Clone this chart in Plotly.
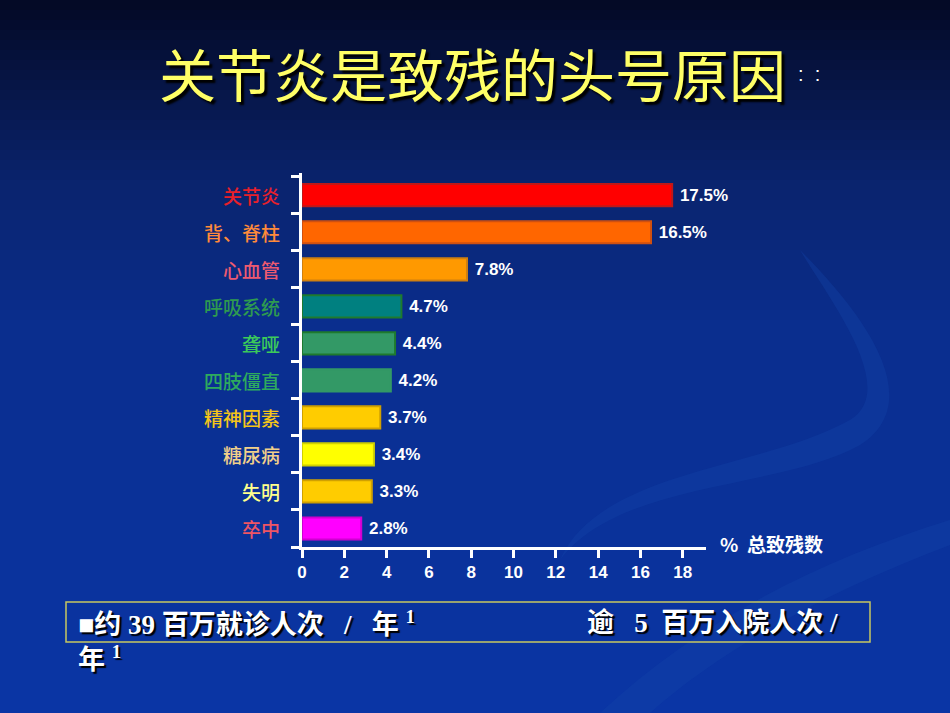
import plotly.graph_objects as go

causes = ["关节炎", "背、脊柱", "心血管", "呼吸系统", "聋哑",
          "四肢僵直", "精神因素", "糖尿病", "失明", "卒中"]
share = [17.5, 16.5, 7.8, 4.7, 4.4, 4.2, 3.7, 3.4, 3.3, 2.8]
bar_colors = ["#FF0000", "#FF6600", "#FF9900", "#008080", "#339966",
              "#339966", "#FFCC00", "#FFFF00", "#FFCC00", "#FF00FF"]
edge_colors = ["#C01818", "#D05010", "#D08010", "#1E7A2E", "#1E7A2E",
               "#339966", "#D0A000", "#D0D000", "#D0A000", "#D000D0"]
label_colors = ["#E8202A", "#FF8A3A", "#EE5A70", "#2E9A50", "#3CCB5A",
                "#2EAA5E", "#F5C518", "#F2D08A", "#FFFF8C", "#EE5564"]
x_ticks = [0, 2, 4, 6, 8, 10, 12, 14, 16, 18]

W, H = 950, 713
L, R, T, B = 302, 244, 173, 166
PH = H - T - B
PW = W - L - R


def py(pix):
    # pixel row (from top) -> paper y
    return (H - B - pix) / PH


def px(pix):
    return (pix - L) / PW


fig = go.Figure()
fig.add_trace(go.Bar(
    x=share, y=causes, orientation="h", width=0.6,
    marker=dict(color=bar_colors, line=dict(color=edge_colors, width=2)),
    text=[f" {v}%" for v in share], textposition="outside",
    textfont=dict(family="Arial, Liberation Sans", size=17, color="white", weight="bold"),
    cliponaxis=False,
))

# background gradient (top dark navy -> royal blue)
stops = [(0, (4, 10, 38)), (180, (10, 36, 110)), (320, (10, 46, 142)), (713, (10, 54, 166))]
shapes = []
step = 10
for y in range(0, H, step):
    for (ya, ca), (yb, cb) in zip(stops[:-1], stops[1:]):
        if ya <= y < yb:
            t = (y - ya) / (yb - ya)
            c = tuple(int(ca[k] + (cb[k] - ca[k]) * t) for k in range(3))
            break
    shapes.append(dict(type="rect", xref="paper", yref="paper", layer="below",
                       x0=px(-5), x1=px(W + 5), y0=py(y + step + 1), y1=py(y),
                       fillcolor=f"rgb{c}", line=dict(width=0)))
# faint swoosh decoration at lower right
shapes.append(dict(type="path", xref="paper", yref="paper", layer="below",
                   path=(f"M {px(560)},{py(560)} C {px(600)},{py(470)} {px(760)},{py(470)} {px(850)},{py(420)} "
                         f"C {px(900)},{py(390)} {px(830)},{py(300)} {px(800)},{py(250)} "
                         f"C {px(860)},{py(310)} {px(930)},{py(400)} {px(860)},{py(445)} "
                         f"C {px(780)},{py(490)} {px(620)},{py(480)} {px(560)},{py(560)} Z"),
                   fillcolor="rgba(20,70,170,0.35)", line=dict(width=0)))
shapes.append(dict(type="path", xref="paper", yref="paper", layer="below",
                   path=(f"M {px(600)},{py(713)} C {px(700)},{py(620)} {px(820)},{py(560)} {px(950)},{py(520)} "
                         f"L {px(950)},{py(545)} C {px(830)},{py(590)} {px(720)},{py(650)} {px(650)},{py(713)} Z"),
                   fillcolor="rgba(20,70,170,0.35)", line=dict(width=0)))
# bottom note box
shapes.append(dict(type="rect", xref="paper", yref="paper",
                   x0=px(66), x1=px(870), y0=py(642), y1=py(602),
                   line=dict(color="#C8C860", width=1.5), fillcolor="rgba(0,0,0,0)"))

annotations = []
for c, col in zip(causes, label_colors):
    annotations.append(dict(x=0, xref="paper", y=c, yref="y", text=c, showarrow=False,
                            xanchor="right", yanchor="middle", xshift=-20,
                            font=dict(family="Noto Sans CJK SC", size=19, color=col, weight=500)))
note_font = dict(family="Liberation Serif, Noto Sans CJK SC", size=27, color="white",
                 weight="bold", shadow="2px 2px 1px #000000")
annotations += [
    dict(x=px(472), y=py(72), xref="paper", yref="paper", showarrow=False,
         text="关节炎是致残的头号原因", xanchor="center", yanchor="middle",
         font=dict(family="Noto Sans CJK SC", size=57, color="#FFFF66",
                   shadow="3px 3px 2px #000000")),
    dict(x=px(796), y=py(74), xref="paper", yref="paper", showarrow=False,
         text=":  :", xanchor="left", yanchor="middle",
         font=dict(family="Liberation Sans", size=20, color="white")),
    dict(x=px(718), y=py(543), xref="paper", yref="paper", showarrow=False,
         text="%  总致残数", xanchor="left", yanchor="middle",
         font=dict(family="Noto Sans CJK SC", size=19, color="white", weight="bold")),
    dict(x=px(76), y=py(623), xref="paper", yref="paper", showarrow=False,
         xanchor="left", yanchor="middle",
         text="■约 39 百万就诊人次   /   年 <sup>1</sup>", font=note_font),
    dict(x=px(585), y=py(623), xref="paper", yref="paper", showarrow=False,
         xanchor="left", yanchor="middle",
         text="逾   5  百万入院人次 /", font=note_font),
    dict(x=px(76), y=py(658), xref="paper", yref="paper", showarrow=False,
         xanchor="left", yanchor="middle",
         text="年 <sup>1</sup>", font=note_font),
]

fig.update_layout(
    width=W, height=H,
    margin=dict(l=L, r=R, t=T, b=B),
    paper_bgcolor="#0A2E90", plot_bgcolor="rgba(0,0,0,0)",
    showlegend=False, shapes=shapes, annotations=annotations,
    xaxis=dict(range=[0, 19.1], tickvals=x_ticks, showgrid=False, zeroline=False,
               showline=True, linecolor="white", linewidth=3,
               ticks="outside", ticklen=8, tickwidth=3, tickcolor="white",
               tickfont=dict(family="Arial, Liberation Sans", size=17, color="white", weight="bold")),
    yaxis=dict(categoryorder="array", categoryarray=causes[::-1], showticklabels=False,
               showgrid=False, zeroline=False, showline=True, linecolor="white",
               linewidth=3, ticks="outside", ticklen=8, tickwidth=3, tickcolor="white",
               tickson="boundaries", range=[-0.5, 9.6]),
)

fig.write_html("out.html", config={"displayModeBar": False},
               post_script="document.body.style.margin='0';")
